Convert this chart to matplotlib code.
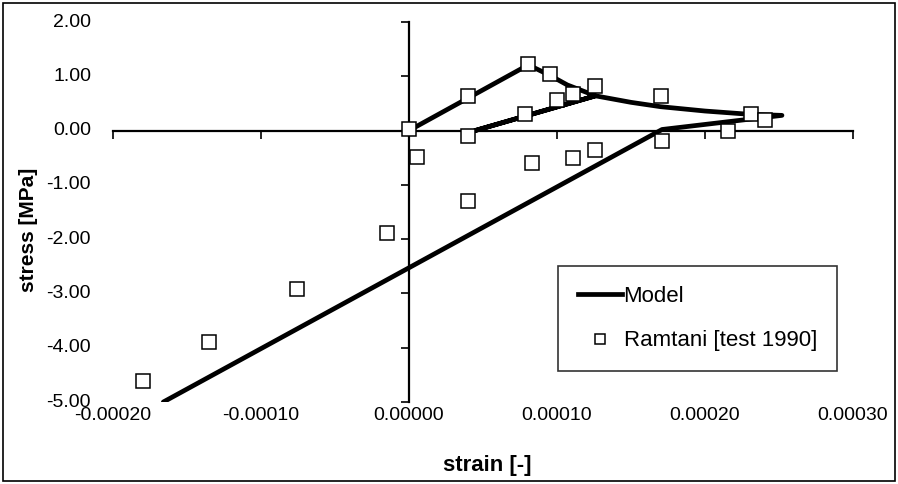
import matplotlib.pyplot as plt
from matplotlib.patches import Rectangle
from matplotlib.lines import Line2D

plt.rcParams['font.family'] = ['Liberation Sans', 'DejaVu Sans']

# model curve (load, soften, unload/reload, soften, unload, compression)
model_strain = [0.0, 0.0000806, 0.000095, 0.000107, 0.000126, 0.0000446, 0.000126,
                0.00015, 0.00017, 0.0002, 0.00023, 0.000252, 0.000171, -0.000166]
model_stress = [0.0, 1.21, 1.02, 0.84, 0.64, 0.0, 0.64,
                0.52, 0.44, 0.36, 0.30, 0.28, 0.02, -5.0]

# Ramtani test points
test_strain = [-0.000180, -0.000135, -0.000076, -0.0000146, 0.0, 0.0000056, 0.0000397,
               0.0000397, 0.0000397, 0.0000784, 0.0000806, 0.0000829, 0.0000953, 0.0000998,
               0.0001106, 0.0001106, 0.0001257, 0.0001257, 0.0001703, 0.0001707, 0.0002158,
               0.0002309, 0.0002405]
test_stress = [-4.61, -3.90, -2.91, -1.88, 0.02, -0.48, 0.64,
               -0.10, -1.30, 0.31, 1.23, -0.60, 1.05, 0.56,
               0.68, -0.50, 0.83, -0.36, 0.63, -0.19, -0.01,
               0.31, 0.19]

xticks = [-0.0002, -0.0001, 0.0, 0.0001, 0.0002, 0.0003]
yticks = [2, 1, 0, -1, -2, -3, -4, -5]

W, H = 898, 484
fig = plt.figure(figsize=(W / 100, H / 100), dpi=100)
ax = fig.add_axes([113 / W, 1 - 402 / H, (853 - 113) / W, (402 - 22) / H])

ax.plot(model_strain, model_stress, color='black', lw=3.4, solid_capstyle='round',
        solid_joinstyle='round', zorder=3)
ax.plot(test_strain, test_stress, ls='none', marker='s', ms=9.5, mfc='white',
        mec='black', mew=1.1, zorder=4)

ax.set_xlim(-0.0002, 0.0003)
ax.set_ylim(-5, 2)
ax.set_xticks(xticks)
ax.set_yticks(yticks)

for s in ['top', 'right']:
    ax.spines[s].set_visible(False)
ax.spines['left'].set_position(('data', 0))
ax.spines['bottom'].set_position(('data', 0))
ax.spines['left'].set_linewidth(1.6)
ax.spines['bottom'].set_linewidth(1.6)
ax.tick_params(axis='both', direction='out', length=6, width=1.2,
               labelleft=False, labelbottom=False)

# tick labels sit at the plot-area edges, like Excel's "low" position
for y in yticks:
    ax.annotate(f'{y:.2f}', xy=(0, y), xycoords=ax.get_yaxis_transform(),
                xytext=(-22, 0), textcoords='offset pixels', ha='right',
                va='center', fontsize=14)
for x in xticks:
    ax.annotate(f'{x:.5f}', xy=(x, 0), xycoords=ax.get_xaxis_transform(),
                xytext=(0, -5), textcoords='offset pixels', ha='center',
                va='top', fontsize=14)

fig.text(487 / W, 1 - 465 / H, 'strain [-]', ha='center', va='center',
         fontsize=16, fontweight='bold')
fig.text(28 / W, 1 - 230 / H, 'stress [MPa]', ha='center', va='center',
         rotation=90, fontsize=15, fontweight='bold')

handles = [Line2D([], [], color='black', lw=3.4),
           Line2D([], [], ls='none', marker='s', ms=7.5, mfc='white', mec='black', mew=1.1)]
leg = fig.legend(handles, ['Model', 'Ramtani [test 1990]'], loc='upper left',
                 bbox_to_anchor=(558 / W, 1 - 266 / H), fontsize=16, frameon=True,
                 fancybox=False, edgecolor='black', handlelength=2.0, handletextpad=0.05,
                 labelspacing=1.05, borderpad=0.9, borderaxespad=0)
leg.get_frame().set_linewidth(1.2)

fig.patches.append(Rectangle((3 / W, 3 / H), 892 / W, 478 / H, transform=fig.transFigure,
                             fill=False, edgecolor='black', lw=1.2))

fig.savefig('out.png', dpi=100)
